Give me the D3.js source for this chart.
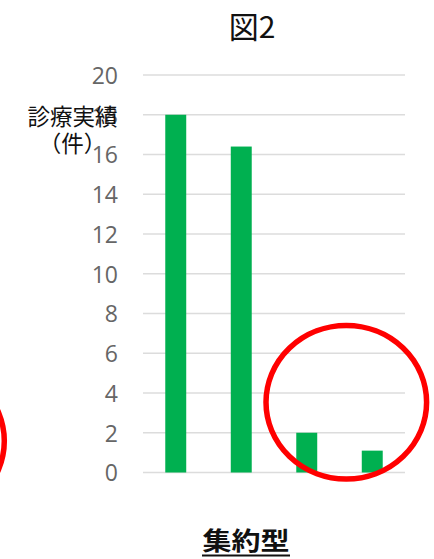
<!DOCTYPE html>
<html>
<head>
<meta charset="utf-8">
<script src="https://cdn.jsdelivr.net/npm/d3@7/dist/d3.min.js"></script>
<style>
  html, body { margin: 0; padding: 0; background: #fff; }
  svg { display: block; }
</style>
</head>
<body>
<svg id="chart" width="434" height="559"></svg>
<script>
const categories = ["1", "2", "3", "4"];
const values = [18, 16.4, 2, 1.1];
const yTicks = [0, 2, 4, 6, 8, 10, 12, 14, 16, 18, 20];
const titleText = "図2";
const yTitleLines = ["診療実績", "（件）"];
const bottomLabel = "集約型";

const svg = d3.select("#chart");
const cjk = "'Noto Sans CJK JP', 'Noto Sans', sans-serif";
const num = "'Open Sans', 'Noto Sans', sans-serif";

const x = d3.scaleBand().domain(categories).range([143, 405]).paddingInner(0.68).paddingOuter(0.34);
const y = d3.scaleLinear().domain([0, 20]).range([472.5, 75]);

// gridlines
svg.append("g").selectAll("line").data(yTicks).join("line")
  .attr("x1", 143).attr("x2", 405)
  .attr("y1", d => y(d)).attr("y2", d => y(d))
  .attr("stroke", "#dcdcdc").attr("stroke-width", 1.6);

// y axis labels
const yAxis = d3.axisLeft(y).tickValues(yTicks).tickSize(0).tickPadding(0);
const gy = svg.append("g").attr("transform", "translate(118,0)").call(yAxis);
gy.select(".domain").remove();
gy.selectAll("text")
  .attr("font-family", num).attr("font-size", 23).attr("fill", "#666666")
  .attr("dy", "0.36em");

// bars
svg.append("g").selectAll("rect").data(values).join("rect")
  .attr("x", (d, i) => x(categories[i]))
  .attr("width", x.bandwidth())
  .attr("y", d => y(d))
  .attr("height", d => y(0) - y(d))
  .attr("fill", "#00b050");

// title
svg.append("text").attr("x", 252).attr("y", 38).attr("text-anchor", "middle")
  .attr("font-family", cjk).attr("font-size", 30).attr("fill", "#111")
  .text(titleText);

// y title
svg.append("g").selectAll("text").data(yTitleLines).join("text")
  .attr("x", 72.5).attr("y", (d, i) => 124.5 + i * 27)
  .attr("text-anchor", "middle")
  .attr("font-family", cjk).attr("font-size", 22.5).attr("fill", "#111")
  .text(d => d);

// bottom label
svg.append("text").attr("x", 246).attr("y", 550).attr("text-anchor", "middle")
  .attr("font-family", cjk).attr("font-size", 25).attr("font-weight", "bold").attr("fill", "#111")
  .attr("textLength", 87).attr("lengthAdjust", "spacingAndGlyphs")
  .text(bottomLabel);
svg.append("line").attr("x1", 202).attr("x2", 290).attr("y1", 555.5).attr("y2", 555.5)
  .attr("stroke", "#111").attr("stroke-width", 2);

// red circles
svg.append("ellipse").attr("cx", 346.3).attr("cy", 402.2).attr("rx", 80.3).attr("ry", 76.8)
  .attr("fill", "none").attr("stroke", "#ff0000").attr("stroke-width", 5.5);
svg.append("ellipse").attr("cx", -76).attr("cy", 441).attr("rx", 80.3).attr("ry", 76.8)
  .attr("fill", "none").attr("stroke", "#ff0000").attr("stroke-width", 5.5);
</script>
</body>
</html>
